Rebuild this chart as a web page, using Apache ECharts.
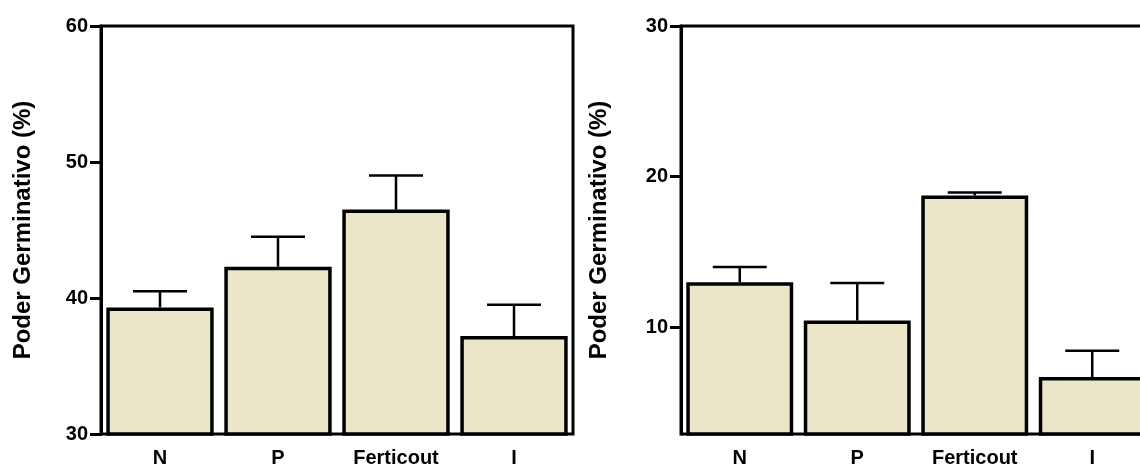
<!DOCTYPE html>
<html>
<head>
<meta charset="utf-8">
<script src="https://cdn.jsdelivr.net/npm/echarts@6/dist/echarts.min.js"></script>
<style>html,body{margin:0;padding:0;background:#fff;}#c{width:1140px;height:464px;}</style>
</head>
<body>
<div id="c"></div>
<script>
var categories = ['N', 'P', 'Ferticout', 'I'];
var leftValues = [39.3, 42.3, 46.5, 37.2];
var leftErrors = [1.2, 2.2, 2.5, 2.3];
var rightValues = [13.0, 10.45, 18.75, 6.7];
var rightErrors = [1.0, 2.5, 0.2, 1.75];
var leftTicks = [30, 40, 50, 60];
var rightTicks = [10, 20, 30];
var yTitle = 'Poder Germinativo (%)';

var FONT = '"Liberation Sans", Arial, sans-serif';
var FILL = '#ebe6ca';

function errRender(params, api) {
  var x = api.value(0), v = api.value(1), e = api.value(2);
  var p0 = api.coord([x, v]);
  var p1 = api.coord([x, v + e]);
  var hw = 27;
  var st = { stroke: '#000', lineWidth: 2.5 };
  return {
    type: 'group',
    children: [
      { type: 'line', shape: { x1: p0[0], y1: p0[1], x2: p1[0], y2: p1[1] }, style: st },
      { type: 'line', shape: { x1: p1[0] - hw, y1: p1[1], x2: p1[0] + hw, y2: p1[1] }, style: st }
    ]
  };
}

function errData(vals, errs) {
  return vals.map(function (v, i) { return [i, v, errs[i]]; });
}

var labelStyle = { color: '#000', fontWeight: 'bold', fontSize: 20, fontFamily: FONT };

function xAxis(gi) {
  return {
    type: 'category', gridIndex: gi, data: categories,
    axisLine: { show: false },
    axisTick: { show: false },
    axisLabel: Object.assign({ margin: 14, interval: 0 }, labelStyle)
  };
}

function yAxis(gi, min, max, ticks, gap) {
  var ax = {
    type: 'value', gridIndex: gi, min: min, max: max,
    name: yTitle, nameLocation: 'middle', nameRotate: 90, nameGap: gap,
    nameTextStyle: { color: '#000', fontWeight: 'bold', fontSize: 24, fontFamily: FONT },
    axisLine: { show: true, lineStyle: { color: '#000', width: 3 } },
    axisTick: { show: true, length: 11, lineStyle: { color: '#000', width: 3 }, customValues: ticks },
    axisLabel: Object.assign({ margin: 13, customValues: ticks }, labelStyle),
    splitLine: { show: false }
  };
  return ax;
}

var chart = echarts.init(document.getElementById('c'));
chart.setOption({
  animation: false,
  grid: [
    { left: 101, top: 26, width: 472, height: 408, outerBoundsMode: 'none', containLabel: false, show: true, borderWidth: 3, borderColor: '#000', backgroundColor: 'transparent' },
    { left: 681, top: 26, width: 470, height: 408, outerBoundsMode: 'none', containLabel: false, show: true, borderWidth: 3, borderColor: '#000', backgroundColor: 'transparent' }
  ],
  xAxis: [xAxis(0), xAxis(1)],
  yAxis: [yAxis(0, 30, 60, leftTicks, 66), yAxis(1, 2.92, 30, rightTicks, 70)],
  series: [
    {
      type: 'bar', xAxisIndex: 0, yAxisIndex: 0, data: leftValues, barWidth: '91%',
      itemStyle: { color: FILL, borderColor: '#000', borderWidth: 3.5 }, z: 2
    },
    {
      type: 'custom', xAxisIndex: 0, yAxisIndex: 0, data: errData(leftValues, leftErrors),
      renderItem: errRender, encode: { x: 0, y: [1, 2] }, z: 3
    },
    {
      type: 'bar', xAxisIndex: 1, yAxisIndex: 1, data: rightValues, barWidth: '91%',
      itemStyle: { color: FILL, borderColor: '#000', borderWidth: 3.5 }, z: 2
    },
    {
      type: 'custom', xAxisIndex: 1, yAxisIndex: 1, data: errData(rightValues, rightErrors),
      renderItem: errRender, encode: { x: 0, y: [1, 2] }, z: 3
    }
  ]
});
</script>
</body>
</html>
